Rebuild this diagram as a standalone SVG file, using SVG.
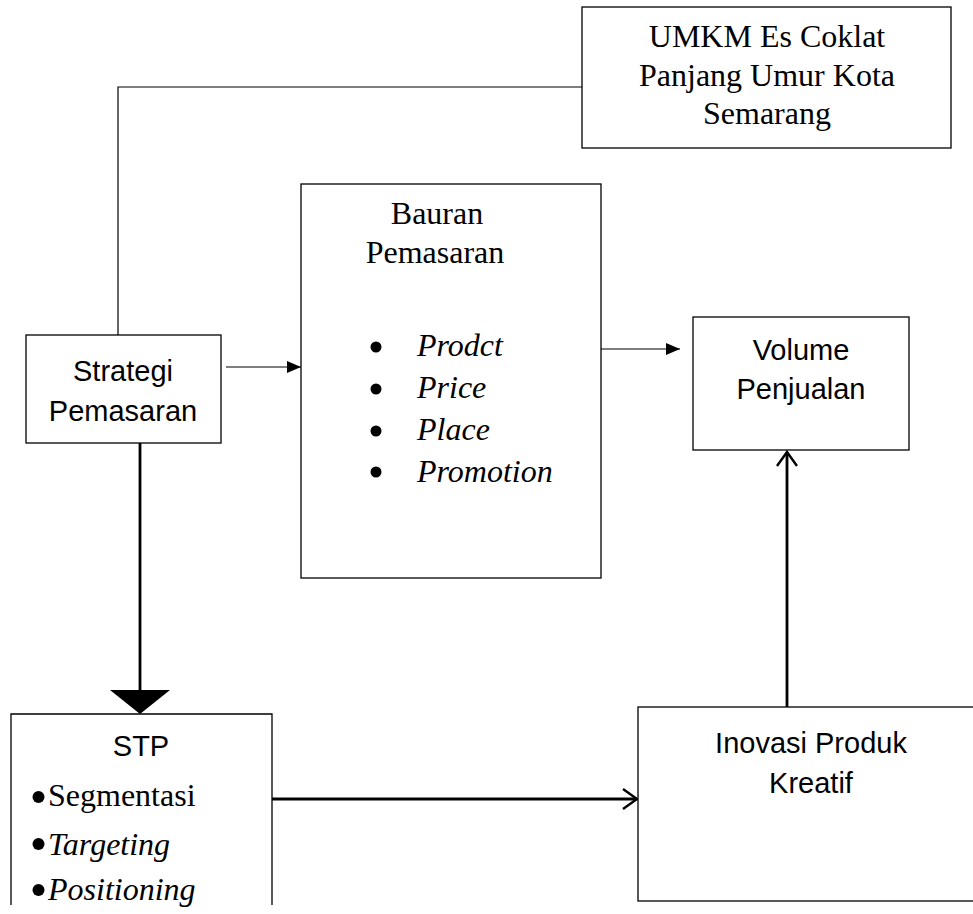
<svg xmlns="http://www.w3.org/2000/svg" width="973" height="914" viewBox="0 0 973 914">
<style>
.box{fill:#fff;stroke:#000;stroke-width:1.3}
.serif{font-family:"Liberation Serif","Times New Roman",serif;font-size:32px;fill:#000}
.sans{font-family:"Liberation Sans",Arial,sans-serif;font-size:29px;fill:#000}
.it{font-style:italic}
.thin{stroke:#000;stroke-width:1.2;fill:none}
.thick{stroke:#000;stroke-width:2.8;fill:none}
</style>
<defs>
<marker id="fillArrow" markerWidth="14" markerHeight="12" refX="14" refY="6" orient="auto" markerUnits="userSpaceOnUse">
<path d="M0,0 L14,6 L0,12 Z" fill="#000"/>
</marker>
<marker id="openArrow" markerWidth="18" markerHeight="22" refX="16" refY="11" orient="auto" markerUnits="userSpaceOnUse">
<path d="M2,1 L16,11 L2,21" fill="none" stroke="#000" stroke-width="2.4"/>
</marker>
</defs>
<rect width="973" height="914" fill="#fff"/>
<g id="connectors">
<path class="thin" d="M118,335 V87 H582" stroke="#555"/>
<line class="thin" x1="226" y1="367" x2="301" y2="367" marker-end="url(#fillArrow)"/>
<line class="thin" x1="601" y1="349" x2="680" y2="349" marker-end="url(#fillArrow)"/>
<line class="thick" x1="140" y1="443" x2="140" y2="692"/>
<path d="M110,690 L170,690 L140,714 Z" fill="#000"/>
<line class="thick" x1="272" y1="799" x2="637" y2="799" marker-end="url(#openArrow)"/>
<line class="thick" x1="787" y1="707" x2="787" y2="452" marker-end="url(#openArrow)"/>
</g>
<g id="umkm">
<rect class="box" x="582" y="7" width="369" height="141"/>
<text class="serif" text-anchor="middle" x="767" y="47">UMKM Es Coklat</text>
<text class="serif" text-anchor="middle" x="767" y="86">Panjang Umur Kota</text>
<text class="serif" text-anchor="middle" x="767" y="124">Semarang</text>
</g>
<g id="bauran">
<rect class="box" x="301" y="184" width="300" height="394"/>
<text class="serif" text-anchor="middle" x="437" y="224">Bauran</text>
<text class="serif" text-anchor="middle" x="435" y="263">Pemasaran</text>
<circle cx="376" cy="347" r="5.5"/>
<circle cx="376" cy="389" r="5.5"/>
<circle cx="376" cy="431" r="5.5"/>
<circle cx="376" cy="472" r="5.5"/>
<text class="serif it" x="417" y="356">Prodct</text>
<text class="serif it" x="417" y="398">Price</text>
<text class="serif it" x="417" y="440">Place</text>
<text class="serif it" x="417" y="482">Promotion</text>
</g>
<g id="strategi">
<rect class="box" x="26" y="335" width="195" height="108"/>
<text class="sans" text-anchor="middle" x="123" y="381">Strategi</text>
<text class="sans" text-anchor="middle" x="123" y="421">Pemasaran</text>
</g>
<g id="volume">
<rect class="box" x="693" y="317" width="216" height="133"/>
<text class="sans" text-anchor="middle" x="801" y="360">Volume</text>
<text class="sans" text-anchor="middle" x="801" y="399">Penjualan</text>
</g>
<g id="stp">
<path class="box" d="M11,905 V714 H272 V905" fill="#fff"/>
<text class="sans" text-anchor="middle" x="141" y="756">STP</text>
<circle cx="38.5" cy="797" r="6"/>
<circle cx="38.5" cy="844" r="6"/>
<circle cx="38.5" cy="890" r="6"/>
<text class="serif" x="48" y="806">Segmentasi</text>
<text class="serif it" x="48" y="855">Targeting</text>
<text class="serif it" x="48" y="900">Positioning</text>
</g>
<g id="inovasi">
<rect class="box" x="638" y="707" width="345" height="194"/>
<text class="sans" text-anchor="middle" x="811" y="753">Inovasi Produk</text>
<text class="sans" text-anchor="middle" x="811" y="793">Kreatif</text>
</g>
</svg>
